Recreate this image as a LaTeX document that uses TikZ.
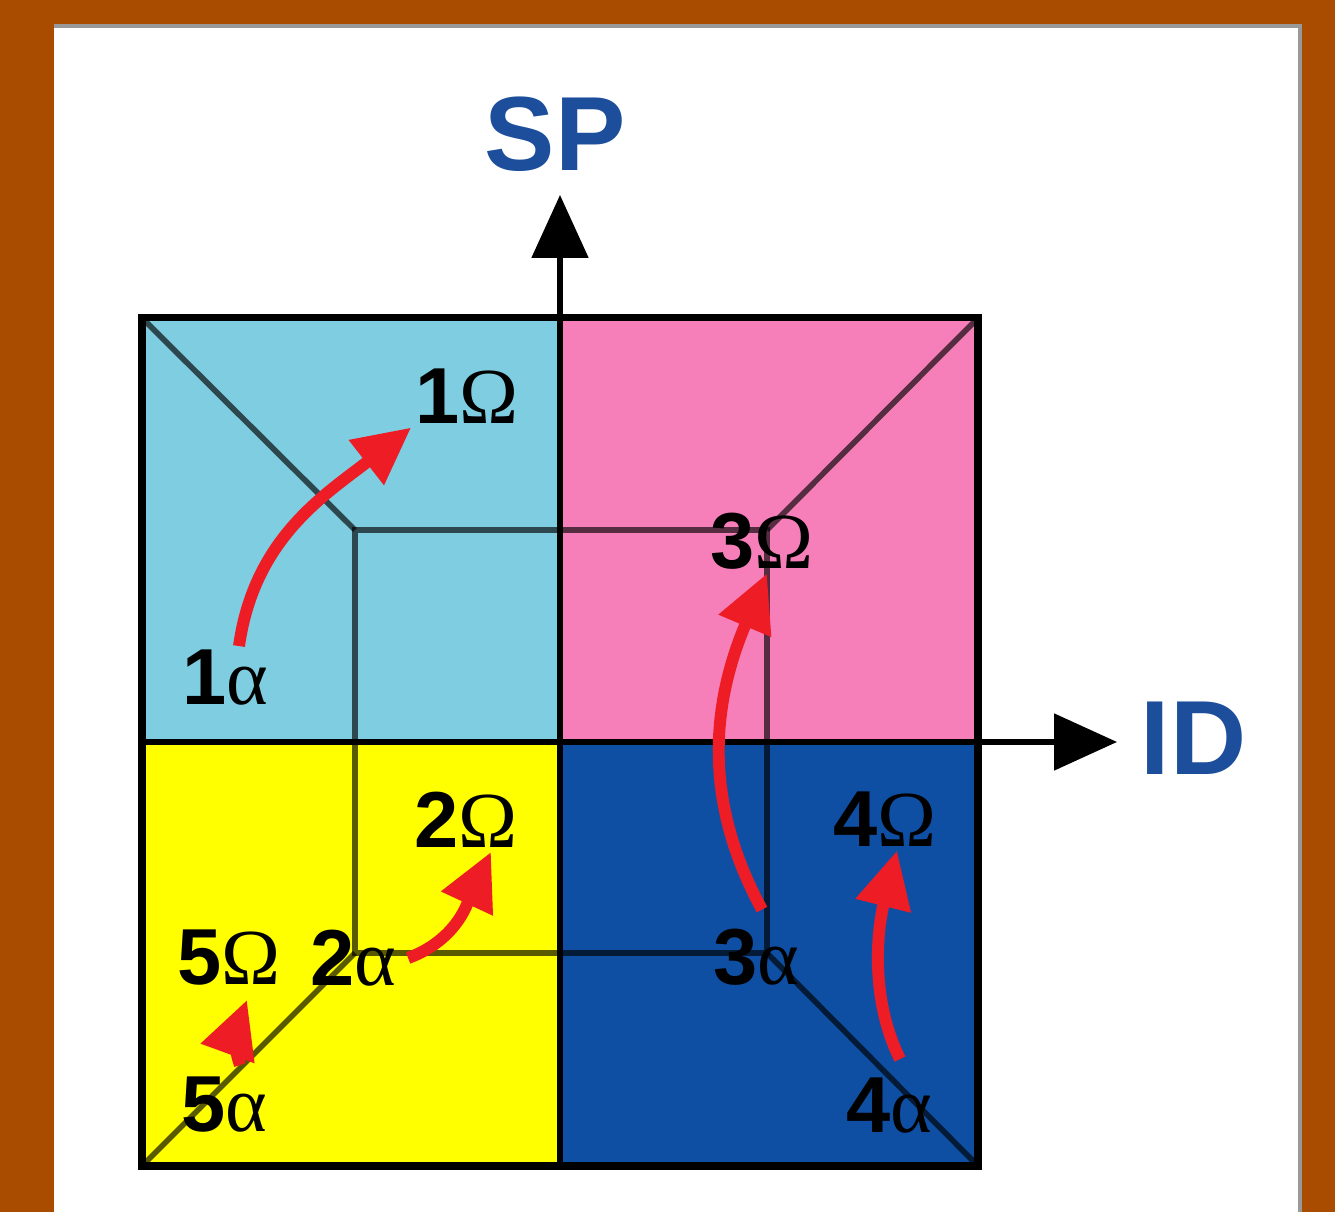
\documentclass[tikz,border=0pt]{standalone}
\usepackage{fontspec}
\setmainfont{Liberation Sans}
\newfontfamily\grkfont{Liberation Serif}
\usepackage{xcolor}
\definecolor{FrameOrange}{HTML}{A94C00}
\definecolor{QuadCyan}{HTML}{7FCDE1}
\definecolor{QuadPink}{HTML}{F67FBA}
\definecolor{QuadYellow}{HTML}{FFFF00}
\definecolor{QuadBlue}{HTML}{0E4FA3}
\definecolor{AxisBlue}{HTML}{1C4E9C}
\definecolor{ShiftRed}{HTML}{EE1C24}
\usetikzlibrary{arrows.meta,positioning,calc}
\newcommand{\stage}[2]{\textbf{#1}{\grkfont #2}}

\begin{document}
\begin{tikzpicture}[x=0.1mm,y=0.1mm,
  lbl/.style={font=\fontsize{22.6}{26}\selectfont,inner sep=1pt},
  axlbl/.style={font=\fontsize{30}{35}\selectfont\bfseries,text=AxisBlue,inner sep=0pt},
  cube/.style={line width=1.6pt,black,opacity=0.65},
  axis/.style={line width=1.5pt,-{Triangle[length=6.3mm,width=5.6mm]}},
  shiftarr/.style={line width=3.4pt,ShiftRed,-{Triangle[length=5.7mm,width=5.4mm]}}
]
  % frame and panel
  \fill[FrameOrange] (0,0) rectangle (1335,1212);
  \fill[white] (54,0) rectangle (1302,1188);
  \draw[black!40,line width=1.1pt] (54,1186) -- (1300,1186) -- (1300,0);
  \useasboundingbox (0,0) rectangle (1335,1212);

  % corners of the two squares
  \coordinate (sw) at (142,46);
  \coordinate (se) at (978,46);
  \coordinate (ne) at (978,894);
  \coordinate (nw) at (142,894);
  \coordinate (isw) at (355,259);
  \coordinate (ise) at (767,259);
  \coordinate (ine) at (767,682);
  \coordinate (inw) at (355,682);
  \coordinate (mid) at (560,470);

  % quadrants
  \fill[QuadCyan] (nw) rectangle (mid);
  \fill[QuadPink] (mid) rectangle (ne);
  \fill[QuadYellow] (sw) rectangle (mid);
  \fill[QuadBlue] (mid) rectangle (se);

  % cube
  \draw[cube] (isw) rectangle (ine);
  \draw[cube] (sw) -- (isw) (se) -- (ise) (ne) -- (ine) (nw) -- (inw);
  \draw[line width=2pt] (sw) rectangle (ne);

  % axes
  \coordinate (sptip) at (560,1017);
  \coordinate (idtip) at (1117,470);
  \draw[axis] (mid|-sw) -- (sptip);
  \draw[axis] (nw|-mid) -- (idtip);
  \node[axlbl,above=2.3mm of sptip,xshift=-0.5mm] (sp) {SP};
  \node[axlbl,right=2.3mm of idtip,yshift=0.4mm] (id) {ID};

  % stages
  \node[lbl] (a1) at (225,534) {\stage{1}{α}};
  \node[lbl] (o1) at (467,816) {\stage{1}{Ω}};
  \node[lbl] (a2) at (353,254) {\stage{2}{α}};
  \node[lbl] (o2) at (466,392) {\stage{2}{Ω}};
  \node[lbl] (a3) at (756,255) {\stage{3}{α}};
  \node[lbl] (o3) at (762,671) {\stage{3}{Ω}};
  \node[lbl] (a4) at (889,106) {\stage{4}{α}};
  \node[lbl] (o4) at (885,393) {\stage{4}{Ω}};
  \node[lbl] (a5) at (224,107) {\stage{5}{α}};
  \node[lbl] (o5) at (229,254) {\stage{5}{Ω}};

  % shifts
  \draw[shiftarr] ([xshift=1.4mm]a1.north) to[out=82,in=218] (o1.south west);
  \draw[shiftarr] ([xshift=0.8mm]a2.east) to[out=20,in=245] ([xshift=2.5mm]o2.south);
  \draw[shiftarr] ([xshift=0.6mm,yshift=1.5mm]a3.north) .. controls +(-60,110) and +(-55,-130) .. ([xshift=0.5mm]o3.south);
  \draw[shiftarr] ([xshift=1.1mm,yshift=1.5mm]a4.north) .. controls +(-30,60) and +(-20,-80) .. ([xshift=1.2mm]o4.south);
  \draw[shiftarr] ([xshift=1.6mm,yshift=0.8mm]a5.north) to[out=110,in=250] ([xshift=1.8mm,yshift=-1mm]o5.south);
\end{tikzpicture}
\end{document}
